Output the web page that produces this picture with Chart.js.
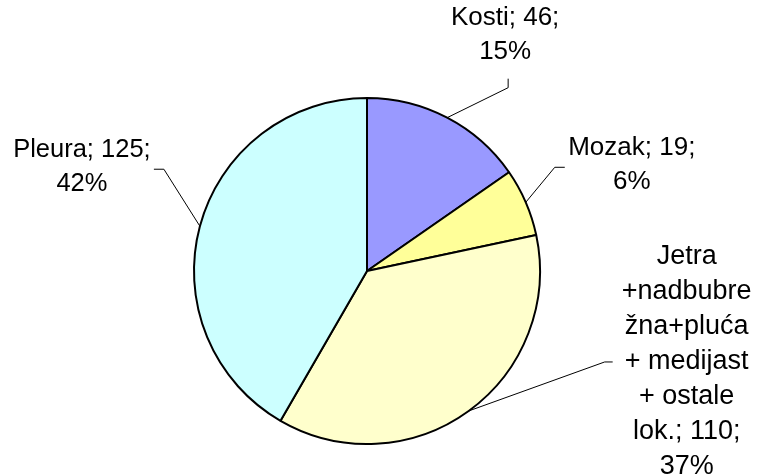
<!DOCTYPE html>
<html>
<head>
<meta charset="utf-8">
<script src="https://cdn.jsdelivr.net/npm/chart.js@4"></script>
<style>
  html, body { margin: 0; padding: 0; background: #fff; }
  #wrap { width: 757px; height: 476px; position: relative; }
</style>
</head>
<body>
<div id="wrap"><canvas id="c" width="757" height="476"></canvas></div>
<script>
// ---- data ----
const categories = ['Kosti', 'Mozak', 'Jetra +nadbubrežna+pluća + medijast + ostale lok.', 'Pleura'];
const categoryLines = [
  ['Kosti'],
  ['Mozak'],
  ['Jetra', '+nadbubre', 'žna+pluća', '+ medijast', '+ ostale', 'lok.'],
  ['Pleura']
];
const values = [46, 19, 110, 125];
const sliceColors = ['#9999FF', '#FFFF99', '#FFFFCC', '#CCFFFF'];

// ---- label layout (offsets relative to each slice's outer mid-point) ----
const labelLayout = [
  { elbow: [61, -30], end: [61, -39], text: [58, -100], size: 26, lineH: 34 },
  { elbow: [29, -35], end: [39, -35], text: [106, -54], size: 26, lineH: 34 },
  { elbow: [136, -49], end: [144, -49], text: [218, -154], size: 27, lineH: 35 },
  { elbow: [-36, -57], end: [-46, -57], text: [-118, -76], size: 25.5, lineH: 34 }
];
const FONT_FAMILY = '"Liberation Sans", Arial, sans-serif';

const total = values.reduce((a, b) => a + b, 0);

function labelText(i) {
  const lines = categoryLines[i].slice();
  const last = lines.pop();
  lines.push(last + '; ' + values[i] + ';');
  lines.push(Math.round(values[i] / total * 100) + '%');
  return lines;
}

const leaderPlugin = {
  id: 'leaders',
  afterDraw(chart) {
    const ctx = chart.ctx;
    const meta = chart.getDatasetMeta(0);
    ctx.save();
    meta.data.forEach((arc, i) => {
      const p = arc.getProps(['x', 'y', 'startAngle', 'endAngle', 'outerRadius'], true);
      const mid = (p.startAngle + p.endAngle) / 2;
      const ex = p.x + Math.cos(mid) * p.outerRadius;
      const ey = p.y + Math.sin(mid) * p.outerRadius;
      const L = labelLayout[i];
      ctx.strokeStyle = '#000';
      ctx.lineWidth = 1;
      ctx.beginPath();
      ctx.moveTo(ex, ey);
      ctx.lineTo(ex + L.elbow[0], ey + L.elbow[1]);
      ctx.lineTo(ex + L.end[0], ey + L.end[1]);
      ctx.stroke();
      ctx.fillStyle = '#000';
      ctx.font = L.size + 'px ' + FONT_FAMILY;
      ctx.textAlign = 'center';
      ctx.textBaseline = 'middle';
      const lines = labelText(i);
      lines.forEach((t, k) => {
        ctx.fillText(t, ex + L.text[0], ey + L.text[1] + k * L.lineH);
      });
    });
    ctx.restore();
  }
};

new Chart(document.getElementById('c'), {
  type: 'pie',
  data: {
    labels: categories,
    datasets: [{
      data: values,
      backgroundColor: sliceColors,
      borderColor: '#000',
      borderWidth: 2
    }]
  },
  options: {
    responsive: false,
    animation: false,
    layout: { padding: { top: 97, bottom: 31, left: 193, right: 216 } },
    plugins: { legend: { display: false }, tooltip: { enabled: false } }
  },
  plugins: [leaderPlugin]
});
</script>
</body>
</html>
